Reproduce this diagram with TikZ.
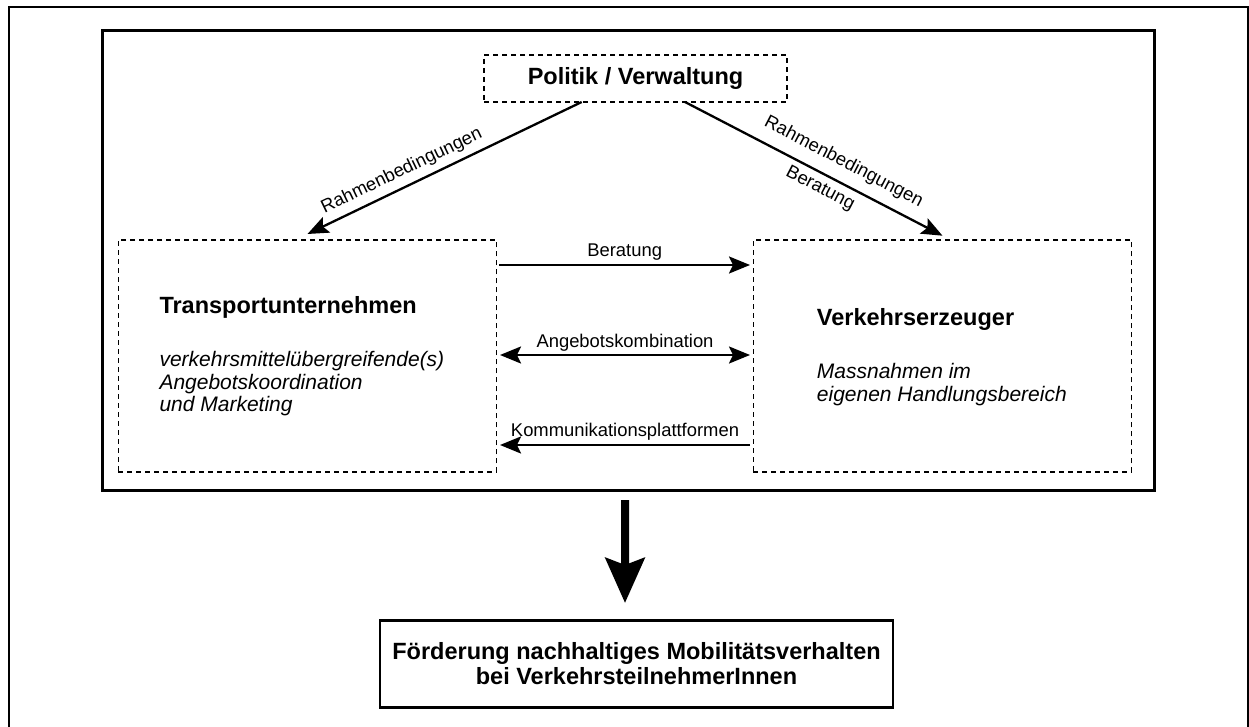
\documentclass[tikz,border=0pt]{standalone}
\usepackage{fontspec}
\setmainfont{Liberation Sans}
\usetikzlibrary{arrows.meta,calc}
\begin{document}
\begin{tikzpicture}[x=1pt,y=-1pt,
  dbox/.style={draw, line width=1.3pt, dash pattern=on 5pt off 4pt, inner sep=0pt, outer sep=0pt},
  sbox/.style={draw, line width=2.5pt, inner sep=0pt, outer sep=0pt},
  arr/.style={line width=2.3pt, -{Stealth[length=21pt,width=17pt,inset=4pt]}},
  darr/.style={line width=2.3pt, {Stealth[length=21pt,width=17pt,inset=4pt]}-{Stealth[length=21pt,width=17pt,inset=4pt]}},
  bigarr/.style={line width=8pt, -{Stealth[length=45pt,width=39pt,inset=7pt]}},
  head/.style={font=\fontsize{23.5}{25}\selectfont\bfseries},
  htxt/.style={head, inner sep=0pt, anchor=base west},
  desc/.style={font=\fontsize{21}{25}\selectfont\itshape, inner sep=0pt, anchor=base west},
  lab/.style={font=\fontsize{18.4}{22}\selectfont, inner sep=0pt},
]
\useasboundingbox (0,0) rectangle (1249,727);
\fill[white] (0,0) rectangle (1249,727);
\draw[line width=2.5pt] (9,732) -- (9,7) -- (1248,7) -- (1248,732);

\node[sbox, line width=3pt, minimum width=1051.5pt, minimum height=460.2pt] (frame) at (628.25,260.6) {};

\node[dbox, head, minimum width=303pt, minimum height=47pt] (pol) at (635.5,78.5) {Politik / Verwaltung};

\node[dbox, minimum width=378.4pt, minimum height=232pt] (tu) at (307.5,356) {};
\node[dbox, minimum width=378.4pt, minimum height=232pt] (vz) at (942.5,356) {};

\node[htxt] (tut) at (159.3,313) {Transportunternehmen};
\node[desc] (tud1) at (159.3,366.7) {verkehrsmittelübergreifende(s)};
\node[desc] (tud2) at (159.3,389.2) {Angebotskoordination};
\node[desc] (tud3) at (159.3,411.7) {und Marketing};

\node[htxt] (vzt) at (816.7,325) {Verkehrserzeuger};
\node[desc] (vzd1) at (816.7,378.3) {Massnahmen im};
\node[desc] (vzd2) at (816.7,401.7) {eigenen Handlungsbereich};

\node[sbox, head, align=center, minimum width=513pt, minimum height=86.6pt] (goal) at (636.5,664)
  {Förderung nachhaltiges Mobilitätsverhalten\\bei VerkehrsteilnehmerInnen};

% diagonal arrows
\draw[arr] ([xshift=-53.8pt]pol.south) -- ([yshift=6pt]tu.north)
  node[lab, pos=0.631, sloped, anchor=south, inner sep=6pt] (l1) {Rahmenbedingungen};
\draw[arr] ([xshift=49.5pt]pol.south) -- ([yshift=4.3pt]vz.north)
  node[lab, pos=0.581, sloped, anchor=south, inner sep=10pt] (l2) {Rahmenbedingungen}
  node[lab, pos=0.551, sloped, anchor=north, inner sep=5.5pt] (l3) {Beratung};

% horizontal arrows
\draw[arr] ([xshift=2.6pt,yshift=91pt]tu.east) -- ([xshift=-3.3pt,yshift=91pt]vz.west)
  node[lab, midway, anchor=base, yshift=8.3pt] (l4) {Beratung};
\draw[darr] ([xshift=3.3pt,yshift=1pt]tu.east) -- ([xshift=-3.3pt,yshift=1pt]vz.west)
  node[lab, midway, anchor=base, yshift=7.7pt] (l5) {Angebotskombination};
\draw[arr] ([xshift=-3.3pt,yshift=-89pt]vz.west) -- ([xshift=3.3pt,yshift=-89pt]tu.east)
  node[lab, midway, anchor=base, yshift=8.3pt] (l6) {Kommunikationsplattformen};

% big arrow
\draw[bigarr] ([xshift=-3.2pt,yshift=-9.3pt]frame.south) -- ([xshift=-11.5pt,yshift=17.7pt]goal.north);
\end{tikzpicture}
\end{document}
